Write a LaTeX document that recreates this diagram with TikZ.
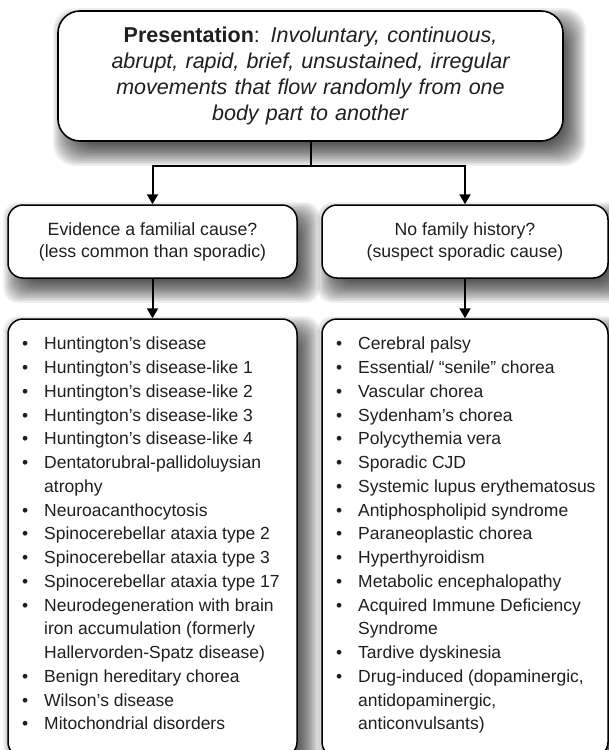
\documentclass[tikz,border=0pt]{standalone}
\usepackage{fontspec}
\setmainfont{Liberation Sans}
\usetikzlibrary{arrows.meta,calc,backgrounds}

\newcommand{\itm}[1]{\makebox[22pt][l]{\textbullet}#1}
\newcommand{\cont}[1]{\hspace*{22pt}#1}

% soft drop shadow behind a named box: stacked translucent rounded rectangles
\newcommand{\boxshadow}[2]{%
  \foreach \k in {0,...,16}{%
    \pgfmathsetmacro{\ee}{13-1.625*\k}%
    \fill[black, fill opacity=0.065, rounded corners=#2]
      ($(#1.north west)+(9-\ee,11-\ee)$) rectangle
      ($(#1.south east)+(9+\ee,11+\ee)$);
  }%
}

\tikzset{
  x=1pt, y=-1pt,
  topbox/.style={draw=black, line width=1.6pt, rounded corners=22pt, fill=white,
      minimum width=505pt, minimum height=130pt, inner sep=0pt,
      text width=470pt, align=center, text=black!88,
      font=\fontsize{21.5}{26}\selectfont},
  qbox/.style={draw=black, line width=1.5pt, rounded corners=15pt, fill=white,
      minimum height=73pt, inner sep=0pt, align=center,
      text=black!88, font=\fontsize{17.7}{22}\selectfont},
  listbox/.style={draw=black, line width=1.5pt, rounded corners=15pt, fill=white,
      minimum height=438pt, inner sep=0pt},
  listtext/.style={anchor=north west, inner sep=0pt, align=left, text=black!88,
      font=\fontsize{17.5}{23.75}\selectfont},
  link/.style={line width=2pt, draw=black},
  arrow/.style={link, -{Triangle[width=11pt,length=10pt]}},
}

\begin{document}
\begin{tikzpicture}
\useasboundingbox (0,0) rectangle (609,750);

% header
\node[topbox] (pres) at (310.5,76)
  {\textbf{Presentation}: \textit{Involuntary, continuous,\\
   abrupt, rapid, brief, unsustained, irregular\\
   movements that flow randomly from one\\
   body part to another}};

% the two questions
\node[qbox, minimum width=289pt] (fam) at (152.5,241.5)
  {Evidence a familial cause?\\(less common than sporadic)};
\node[qbox, minimum width=286pt] (spo) at (465,241.5)
  {No family history?\\(suspect sporadic cause)};

% the two lists of causes
\node[listbox, minimum width=289pt] (famlist) at (152.5,538) {};
\node[listbox, minimum width=286pt] (spolist) at (465,538) {};

\node[listtext] (famitems) at (22,337) {%
  \itm{Huntington's disease}\\
  \itm{Huntington's disease-like 1}\\
  \itm{Huntington's disease-like 2}\\
  \itm{Huntington's disease-like 3}\\
  \itm{Huntington's disease-like 4}\\
  \itm{Dentatorubral-pallidoluysian}\\
  \cont{atrophy}\\
  \itm{Neuroacanthocytosis}\\
  \itm{Spinocerebellar ataxia type 2}\\
  \itm{Spinocerebellar ataxia type 3}\\
  \itm{Spinocerebellar ataxia type 17}\\
  \itm{Neurodegeneration with brain}\\
  \cont{iron accumulation (formerly}\\
  \cont{Hallervorden-Spatz disease)}\\
  \itm{Benign hereditary chorea}\\
  \itm{Wilson's disease}\\
  \itm{Mitochondrial disorders}};

\node[listtext] (spoitems) at (336,337) {%
  \itm{Cerebral palsy}\\
  \itm{Essential/ “senile” chorea}\\
  \itm{Vascular chorea}\\
  \itm{Sydenham's chorea}\\
  \itm{Polycythemia vera}\\
  \itm{Sporadic CJD}\\
  \itm{Systemic lupus erythematosus}\\
  \itm{Antiphospholipid syndrome}\\
  \itm{Paraneoplastic chorea}\\
  \itm{Hyperthyroidism}\\
  \itm{Metabolic encephalopathy}\\
  \itm{Acquired Immune Deficiency}\\
  \cont{Syndrome}\\
  \itm{Tardive dyskinesia}\\
  \itm{Drug-induced (dopaminergic,}\\
  \cont{antidopaminergic,}\\
  \cont{anticonvulsants)}};

% connectors
\path (pres.south) ++(0,24) coordinate (split);
\draw[link] (pres.south) -- (split);
\draw[arrow] (split) -| (fam.north);
\draw[arrow] (split) -| (spo.north);
\draw[arrow] (fam.south) -- (famlist.north);
\draw[arrow] (spo.south) -- (spolist.north);

% page background, then the shadows on top of it
\begin{scope}[on background layer]
  \fill[white] (0,0) rectangle (609,750);
  \boxshadow{pres}{22pt}
  \boxshadow{fam}{15pt}
  \boxshadow{spo}{15pt}
  \boxshadow{famlist}{15pt}
  \boxshadow{spolist}{15pt}
\end{scope}
\end{tikzpicture}
\end{document}
